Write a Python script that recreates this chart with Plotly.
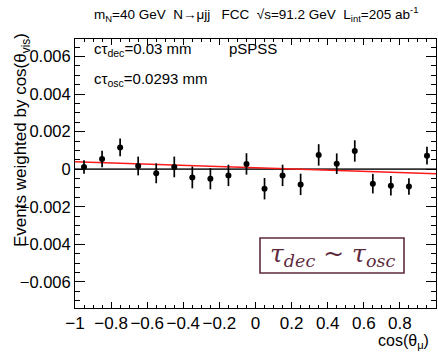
import plotly.graph_objects as go
import numpy as np

# ---- data ----
bin_centers = [-0.95, -0.85, -0.75, -0.65, -0.55, -0.45, -0.35, -0.25, -0.15, -0.05,
               0.05, 0.15, 0.25, 0.35, 0.45, 0.55, 0.65, 0.75, 0.85, 0.95]
values = [0.00012, 0.00054, 0.00116, 0.00017, -0.00022, 0.00012, -0.00044, -0.00051, -0.00033, 0.00028,
          -0.00104, -0.00033, -0.00081, 0.00076, 0.00029, 0.00097, -0.00077, -0.00088, -0.00092, 0.00072]
errors = [0.00036, 0.00044, 0.00047, 0.00050, 0.00053, 0.00055, 0.00058, 0.00056, 0.00057, 0.00057,
          0.00057, 0.00057, 0.00057, 0.00057, 0.00055, 0.00057, 0.00052, 0.00052, 0.00044, 0.00047]
fit_p0 = 0.000075   # linear fit: p0 + p1*x
fit_p1 = -0.00032
fit_x = [-1.0, 1.0]

x_range = [-1.0, 1.0]
y_range = [-0.00739, 0.00693]

FONT = "Liberation Sans, Arial, Helvetica, sans-serif"

fig = go.Figure()

# zero line
fig.add_shape(type="line", xref="x", yref="y", x0=x_range[0], x1=x_range[1], y0=0, y1=0,
              line=dict(color="#333333", width=1.8), layer="below")

# fit line
fig.add_trace(go.Scatter(x=fit_x, y=[fit_p0 + fit_p1 * v for v in fit_x], mode="lines",
                         line=dict(color="#ff1a1a", width=1.6), showlegend=False, hoverinfo="skip"))

# data points
fig.add_trace(go.Scatter(x=bin_centers, y=values, mode="markers",
                         marker=dict(color="black", size=6),
                         error_y=dict(type="data", array=errors, visible=True, color="black",
                                      thickness=1.7, width=0),
                         showlegend=False))

fig.update_layout(
    width=438, height=363,
    margin=dict(l=75, r=2, t=39, b=55),
    paper_bgcolor="white", plot_bgcolor="white",
    font=dict(family=FONT, color="black"),
    showlegend=False,
)

fig.update_xaxes(range=x_range, dtick=0.2, tick0=-1, ticks="inside", ticklen=6, tickwidth=1,
                 tickcolor="black", showline=True, linecolor="black", linewidth=1,
                 mirror="allticks", showgrid=False, zeroline=False,
                 tickfont=dict(size=17, family=FONT),
                 minor=dict(dtick=0.05, ticks="inside", ticklen=3, tickcolor="black", showgrid=False))
fig.update_yaxes(range=y_range, dtick=0.002, tick0=0, ticks="inside", ticklen=10, tickwidth=1,
                 tickcolor="black", showline=True, linecolor="black", linewidth=1,
                 mirror="allticks", showgrid=False, zeroline=False,
                 tickfont=dict(size=16.5, family=FONT),
                 minor=dict(dtick=0.0005, ticks="inside", ticklen=5, tickcolor="black", showgrid=False))

# plot geometry helpers (paper coords)
L, R, T, B = 75, 436, 39, 308
W, H = R - L, B - T
def px(x): return (x - L) / W
def py(y): return (B - y) / H

annos = [
    dict(text="m<sub>N</sub>=40 GeV  N→μjj   FCC  √s=91.2 GeV  L<sub>int</sub>=205 ab<sup>-1</sup>",
         x=px(92), y=py(14), xanchor="left", yanchor="middle", font=dict(size=13.5)),
    dict(text="cτ<sub>dec</sub>=0.03 mm", x=px(92), y=py(49), xanchor="left", yanchor="middle",
         font=dict(size=15)),
    dict(text="pSPSS", x=px(227), y=py(48), xanchor="left", yanchor="middle", font=dict(size=15)),
    dict(text="cτ<sub>osc</sub>=0.0293 mm", x=px(92), y=py(79), xanchor="left", yanchor="middle",
         font=dict(size=15)),
    dict(text="Events weighted by cos(θ<sub>vis</sub>)", x=px(22), y=py(140), textangle=-90,
         xanchor="center", yanchor="middle", font=dict(size=17)),
    dict(text="cos(θ<sub>μ</sub>)", x=px(431), y=py(341), xanchor="right", yanchor="middle",
         font=dict(size=16)),
]
for a in annos:
    a.update(xref="paper", yref="paper", showarrow=False)
    fig.add_annotation(**a)

# boxed label
fig.add_shape(type="rect", xref="paper", yref="paper", x0=px(260), x1=px(404), y0=py(273), y1=py(238),
              line=dict(color="#5e2a3c", width=1.6), fillcolor="white")
fig.add_annotation(text="<i>τ<sub>dec</sub> ~ τ<sub>osc</sub></i>", xref="paper", yref="paper",
                   x=px(332), y=py(255), xanchor="center", yanchor="middle", showarrow=False,
                   font=dict(size=25, color="#5e2a3c", family="DejaVu Serif, Liberation Serif, serif"))

fig.write_html("out.html")
